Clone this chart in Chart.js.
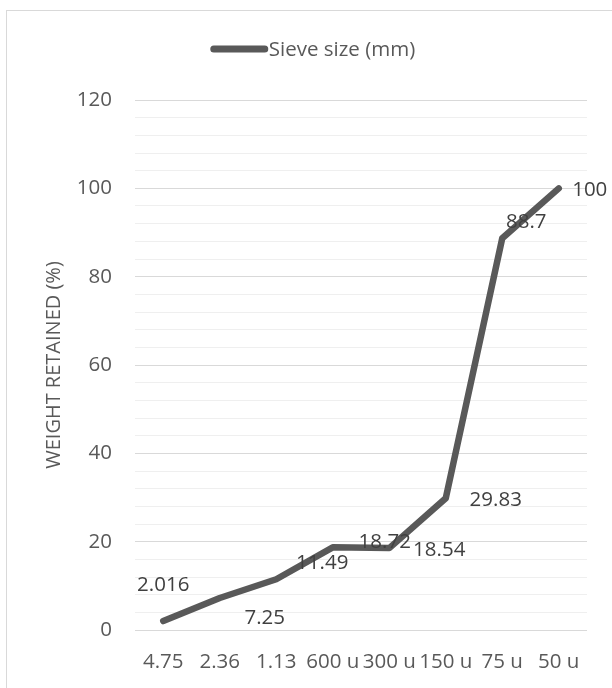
<!DOCTYPE html>
<html>
<head>
<meta charset="utf-8">
<script src="https://cdn.jsdelivr.net/npm/chart.js@4/dist/chart.umd.min.js"></script>
<style>
  html, body { margin: 0; padding: 0; background: #ffffff; }
  canvas { display: block; }
</style>
</head>
<body>
<canvas id="c" width="612" height="688"></canvas>
<script>
// Sieve analysis: cumulative weight retained per sieve
const categories = ['4.75', '2.36', '1.13', '600 u', '300 u', '150 u', '75 u', '50 u'];
const weightRetained = [2.016, 7.25, 11.49, 18.72, 18.54, 29.83, 88.7, 100];
const seriesName = 'Sieve size (mm)';
const axisTitle = 'WEIGHT RETAINED (%)';

// hand-placed data label offsets (px from each point)
const labelDx = [0, 45, 46, 52, 50, 50, 24, 31];
const labelDy = [-36, 20, -16, -5, 2, 2, -16, 2];

const FONT = '"Open Sans", Lato, sans-serif';
const FONT_SIZE = 20.5;
const LINE_COLOR = '#595959';

const decorations = {
  id: 'decorations',
  beforeDraw(chart) {
    const ctx = chart.ctx;
    ctx.save();
    ctx.fillStyle = '#ffffff';
    ctx.fillRect(0, 0, chart.width, chart.height);
    ctx.strokeStyle = '#d9d9d9';
    ctx.lineWidth = 1;
    ctx.strokeRect(6.5, 10.5, chart.width + 20, chart.height + 20);
    ctx.restore();
  },
  afterDraw(chart) {
    const ctx = chart.ctx;
    ctx.save();
    // legend
    ctx.font = FONT_SIZE + 'px ' + FONT;
    const tw = ctx.measureText(seriesName).width;
    const lineLen = 57;
    const total = lineLen + 1 + tw;
    const x0 = 313 - total / 2;
    const ly = 49;
    ctx.strokeStyle = LINE_COLOR;
    ctx.lineWidth = 7;
    ctx.lineCap = 'round';
    ctx.beginPath();
    ctx.moveTo(x0 + 3, ly);
    ctx.lineTo(x0 + lineLen - 3, ly);
    ctx.stroke();
    ctx.fillStyle = LINE_COLOR;
    ctx.textBaseline = 'middle';
    ctx.textAlign = 'left';
    ctx.fillText(seriesName, x0 + lineLen + 1, ly + 1);

    // data labels
    const meta = chart.getDatasetMeta(0);
    ctx.fillStyle = '#404040';
    ctx.textAlign = 'center';
    meta.data.forEach((pt, i) => {
      ctx.fillText(String(weightRetained[i]), pt.x + labelDx[i], pt.y + labelDy[i]);
    });
    ctx.restore();
  }
};

new Chart(document.getElementById('c'), {
  type: 'line',
  data: {
    labels: categories,
    datasets: [{
      label: seriesName,
      data: weightRetained,
      borderColor: LINE_COLOR,
      backgroundColor: LINE_COLOR,
      borderWidth: 6.5,
      borderCapStyle: 'round',
      borderJoinStyle: 'round',
      pointRadius: 0,
      tension: 0,
      fill: false
    }]
  },
  options: {
    responsive: false,
    devicePixelRatio: 1,
    animation: false,
    layout: { padding: { top: 100, right: 25, left: 0, bottom: 0 } },
    plugins: {
      legend: { display: false },
      tooltip: { enabled: false }
    },
    scales: {
      x: {
        offset: true,
        grid: { display: false, drawTicks: false },
        border: { display: false },
        ticks: {
          color: LINE_COLOR,
          font: { family: FONT, size: FONT_SIZE },
          padding: 20,
          autoSkip: false,
          maxRotation: 0,
          minRotation: 0
        },
        afterFit(scale) { scale.height = 58; }
      },
      y: {
        min: 0,
        max: 120,
        grid: {
          drawTicks: false,
          lineWidth: 1,
          color: ctx => (ctx.tick && ctx.tick.value % 20 === 0) ? '#d9d9d9' : '#efefef'
        },
        border: { display: false },
        ticks: {
          stepSize: 4,
          autoSkip: false,
          color: LINE_COLOR,
          font: { family: FONT, size: FONT_SIZE },
          padding: 23,
          callback: v => (v % 20 === 0 ? String(v) : '')
        },
        title: {
          display: true,
          text: axisTitle,
          color: LINE_COLOR,
          font: { family: FONT, size: 20, weight: 'normal' },
          padding: { top: 42, bottom: 0 }
        },
        afterFit(scale) { scale.width = 135; }
      }
    }
  },
  plugins: [decorations]
});
</script>
</body>
</html>
